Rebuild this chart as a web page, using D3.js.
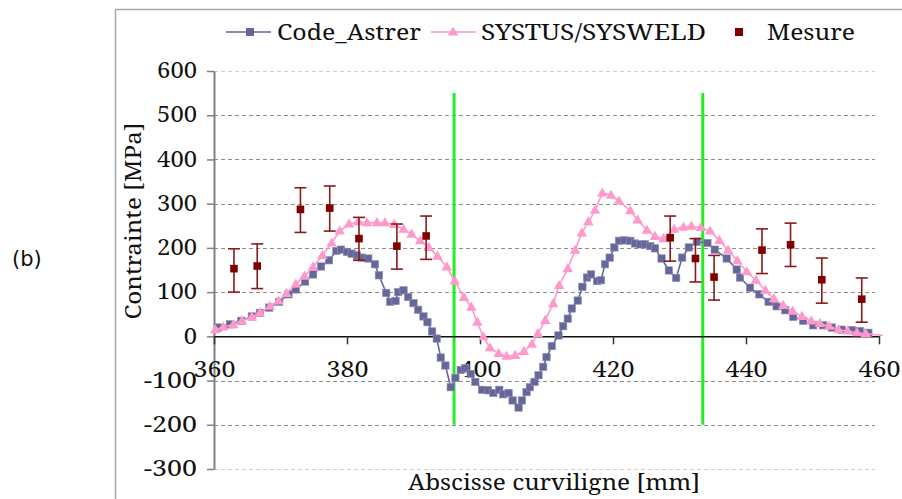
<!DOCTYPE html>
<html>
<head>
<meta charset="utf-8">
<script src="https://cdn.jsdelivr.net/npm/d3@7"></script>
<style>
    body { margin: 0; background: #fff; }
    svg { display: block; }
</style>
</head>
<body>
<div id="chart"></div>
<script>
// ---- data ----
const astrerX = [360.6, 362.4, 364.1, 365.7, 366.9, 368.3, 369.8, 371.2, 372.3, 373.7, 374.9, 376.1, 377.3, 378.4, 379.1, 380.0, 380.7, 381.5, 382.2, 383.2,
    384.2, 384.8, 385.9, 386.5, 387.3, 387.7, 388.5, 389.2, 390.0, 390.7, 391.5, 392.1, 392.8, 393.5, 394.1, 394.8, 395.6, 396.3, 397.1, 397.8,
    398.6, 399.3, 400.3, 401.2, 402.0, 402.9, 403.5, 404.3, 404.9, 405.8, 406.3, 407.0, 407.5, 408.2, 408.8, 409.5, 410.0, 410.8, 411.8, 412.5,
    413.2, 413.8, 414.7, 415.4, 416.1, 416.7, 417.6, 418.2, 418.8, 419.5, 420.2, 420.9, 421.7, 422.6, 423.3, 424.1, 424.8, 425.6, 426.3, 427.3,
    428.4, 429.5, 430.4, 431.4, 432.6, 434.2, 435.3, 437.1, 438.6, 439.1, 440.6, 442.0, 443.4, 444.6, 445.9, 447.1, 448.6, 450.1, 451.6, 452.9,
    454.4, 455.9, 457.1, 458.4];
const astrerY = [20, 27, 35, 45, 53, 65, 78, 95, 106, 124, 140, 158, 172, 193, 196, 191, 187, 183, 178, 176,
    163, 138, 98, 78, 80, 100, 104, 89, 75, 60, 45, 32, 11, -5, -48, -66, -115, -94, -76, -72,
    -85, -103, -121, -122, -128, -121, -131, -128, -145, -161, -145, -126, -115, -103, -88, -69, -47, -22, 2, 23,
    40, 63, 81, 112, 133, 140, 125, 127, 163, 178, 201, 216, 217, 216, 210, 208, 208, 204, 199, 176,
    149, 132, 178, 201, 214, 211, 196, 176, 151, 133, 110, 95, 78, 68, 59, 44, 35, 25, 25, 20,
    15, 14, 12, 8];

const systusX = [360.2, 361.4, 362.9, 364.2, 365.7, 366.9, 368.4, 369.7, 370.9, 372.3, 373.6, 374.9, 376.3, 377.7, 378.9, 380.3, 381.7, 383.0, 384.5, 385.7,
    387.1, 388.5, 389.7, 391.0, 392.3, 393.6, 395.0, 396.2, 397.6, 398.7, 399.6, 400.5, 401.5, 402.8, 404.0, 405.3, 406.6, 407.8, 408.7, 409.8,
    411.0, 411.9, 413.2, 414.3, 415.3, 416.3, 417.3, 418.4, 419.7, 420.9, 422.6, 423.7, 425.1, 426.3, 427.6, 429.2, 430.6, 431.8, 433.2, 434.6,
    436.0, 437.3, 438.7, 440.1, 441.5, 442.9, 444.2, 445.6, 447.0, 448.4, 449.8, 451.1, 452.5, 453.9, 455.3, 456.7, 458.0, 460.6];
const systusY = [15, 21, 26, 35, 44, 53, 68, 80, 97, 118, 136, 157, 183, 211, 238, 254, 259, 257, 257, 257,
    253, 242, 231, 216, 201, 181, 157, 125, 88, 66, 32, -1, -26, -39, -45, -43, -34, -18, 6, 36,
    74, 115, 153, 195, 234, 259, 285, 324, 319, 306, 284, 263, 240, 226, 221, 242, 247, 249, 246, 238,
    217, 195, 171, 146, 127, 104, 85, 70, 57, 45, 35, 29, 23, 15, 12, 8, 6, 2];

const mesureX = [363.0, 366.5, 373.0, 377.4, 381.8, 387.5, 391.9, 428.6, 432.4, 435.2, 442.4, 446.7, 451.4, 457.4];
const mesureY = [153, 159, 287, 290, 221, 204, 227, 223, 176, 134, 195, 207, 128, 84];
const mesureLow = [100, 108, 235, 238, 172, 152, 174, 170, 123, 82, 142, 158, 75, 32];
const mesureHigh = [198, 209, 336, 340, 269, 254, 272, 272, 221, 183, 243, 256, 177, 132];

const weldLines = [396.1, 433.5];   // green markers, drawn from -200 to 550
const xTicks = [360, 380, 400, 420, 440, 460];
const yTicks = [-300, -200, -100, 0, 100, 200, 300, 400, 500, 600];

const legendLabels = ["Code_Astrer", "SYSTUS/SYSWELD", "Mesure"];

// ---- layout ----
const width = 902, height = 499;
const astrerColor = "#666699", systusColor = "#ff99cc", mesureColor = "#800000";
//a lone family name (no generic fallback) lands on the browser's default serif face,
//which is the nearest thing to the Vera-style serif of the original here
const serif = '"Noto Serif"';

const svg = d3.select("#chart").append("svg")
    .attr("width", width)
    .attr("height", height);

let x = d3.scaleLinear().domain([360, 460]).range([214, 879]);
let y = d3.scaleLinear().domain([-300, 600]).range([469, 71]);

//plain hyphen for negative numbers, like the original
let fmt = d => String(d);

//outer frame (only the top and left edges are visible)
svg.append("path")
    .attr("d", `M115.5,${height}V9.5H${width}`)
    .attr("fill", "none")
    .attr("stroke", "#a6a6a6")
    .attr("stroke-width", 1.5);

//dashed grid lines
svg.append("g")
    .selectAll("line")
    .data(yTicks.filter(d => d !== 0))
    .join("line")
    .attr("x1", x(360))
    .attr("x2", 875)
    .attr("y1", d => Math.round(y(d)) + 0.5)
    .attr("y2", d => Math.round(y(d)) + 0.5)
    .attr("stroke", d => (d === 600 || d === -300) ? "#cfcfcf" : "#8c8c8c")
    .attr("stroke-dasharray", "4,3");

//y axis
let yAxis = d3.axisLeft(y).tickValues(yTicks).tickSize(7).tickPadding(10).tickSizeOuter(0).tickFormat(fmt);
let gy = svg.append("g")
    .attr("transform", `translate(${x(360)},0)`)
    .call(yAxis);
gy.attr("font-family", null);
gy.select(".domain").attr("stroke", "#808080").attr("stroke-width", 2);
gy.selectAll(".tick line").attr("stroke", "#808080").attr("stroke-width", 1.5);
gy.selectAll(".tick text")
    .style("font-family", serif)
    .attr("font-size", 21)
    .attr("fill", "#111")
    .attr("textLength", d => String(d).length * 13.3)
    .attr("lengthAdjust", "spacingAndGlyphs");

//green weld markers
svg.append("g")
    .selectAll("line")
    .data(weldLines)
    .join("line")
    .attr("x1", d => x(d))
    .attr("x2", d => x(d))
    .attr("y1", y(550))
    .attr("y2", y(-200))
    .attr("stroke", "#22ee22")
    .attr("stroke-width", 3);

//x axis sits on the zero line, ticks go downward
let xAxis = d3.axisBottom(x).tickValues(xTicks).tickSize(8).tickSizeOuter(0).tickFormat(fmt);
let gx = svg.append("g")
    .attr("transform", `translate(0,${y(0)})`)
    .call(xAxis);
gx.attr("font-family", null);
gx.select(".domain").attr("stroke", "#111").attr("stroke-width", 1.5);
gx.selectAll(".tick line").attr("stroke", "#333").attr("stroke-width", 1.5);
gx.selectAll(".tick text")
    .style("font-family", serif)
    .attr("font-size", 21)
    .attr("fill", "#111")
    .attr("dy", "1.4em")
    .attr("textLength", 42)
    .attr("lengthAdjust", "spacingAndGlyphs");

// ---- series ----
let astrer = astrerX.map((d, i) => ({ x: d, y: astrerY[i] }));
let systus = systusX.map((d, i) => ({ x: d, y: systusY[i] }));
let mesure = mesureX.map((d, i) => ({ x: d, y: mesureY[i], lo: mesureLow[i], hi: mesureHigh[i] }));

let line = d3.line().x(d => x(d.x)).y(d => y(d.y));
let tri = d3.symbol().type(d3.symbolTriangle).size(48);

svg.append("path")
    .datum(astrer)
    .attr("d", line)
    .attr("fill", "none")
    .attr("stroke", astrerColor)
    .attr("stroke-width", 1.6);

svg.append("g")
    .selectAll("rect")
    .data(astrer)
    .join("rect")
    .attr("x", d => x(d.x) - 3.7)
    .attr("y", d => y(d.y) - 3.7)
    .attr("width", 7.4)
    .attr("height", 7.4)
    .attr("fill", astrerColor)
    .attr("stroke", "#8f8fb8")
    .attr("stroke-width", 0.6);

svg.append("path")
    .datum(systus)
    .attr("d", line)
    .attr("fill", "none")
    .attr("stroke", systusColor)
    .attr("stroke-width", 1.6);

svg.append("g")
    .selectAll("path")
    .data(systus.filter(d => d.x < 459))
    .join("path")
    .attr("transform", d => `translate(${x(d.x)},${y(d.y) + 0.5})`)
    .attr("d", tri)
    .attr("fill", systusColor);

//measurements with error bars
let mg = svg.append("g")
    .selectAll("g")
    .data(mesure)
    .join("g");

mg.append("line")
    .attr("x1", d => x(d.x))
    .attr("x2", d => x(d.x))
    .attr("y1", d => y(d.hi))
    .attr("y2", d => y(d.lo))
    .attr("stroke", "#8b1a1a")
    .attr("stroke-width", 1.6);

mg.selectAll(".cap")
    .data(d => [{ x: d.x, v: d.hi }, { x: d.x, v: d.lo }])
    .join("line")
    .attr("class", "cap")
    .attr("x1", d => x(d.x) - 6)
    .attr("x2", d => x(d.x) + 6)
    .attr("y1", d => y(d.v))
    .attr("y2", d => y(d.v))
    .attr("stroke", "#8b1a1a")
    .attr("stroke-width", 1.6);

mg.append("rect")
    .attr("x", d => x(d.x) - 3.8)
    .attr("y", d => y(d.y) - 3.8)
    .attr("width", 7.6)
    .attr("height", 7.6)
    .attr("fill", mesureColor);

// ---- legend ----
let legend = svg.append("g").attr("font-size", 22).attr("fill", "#111");

legend.append("line").attr("x1", 226).attr("x2", 271).attr("y1", 32).attr("y2", 32)
    .attr("stroke", astrerColor).attr("stroke-width", 1.6);
legend.append("rect").attr("x", 246).attr("y", 28).attr("width", 8).attr("height", 8).attr("fill", astrerColor);

legend.append("line").attr("x1", 431).attr("x2", 476).attr("y1", 32).attr("y2", 32)
    .attr("stroke", systusColor).attr("stroke-width", 1.6);
legend.append("path").attr("transform", "translate(453,32.5)").attr("d", tri).attr("fill", systusColor);

legend.append("rect").attr("x", 735).attr("y", 28).attr("width", 8).attr("height", 8).attr("fill", mesureColor);

let legendPos = [[277, 144], [481, 225], [767, 88]];
legend.selectAll("text")
    .data(legendLabels)
    .join("text")
    .style("font-family", serif)
    .attr("x", (d, i) => legendPos[i][0])
    .attr("y", 40)
    .attr("textLength", (d, i) => legendPos[i][1])
    .attr("lengthAdjust", "spacingAndGlyphs")
    .text(d => d);

// ---- titles ----
svg.append("text")
    .style("font-family", serif)
    .attr("x", 554)
    .attr("y", 490)
    .attr("text-anchor", "middle")
    .attr("font-size", 22)
    .attr("textLength", 292)
    .attr("lengthAdjust", "spacingAndGlyphs")
    .attr("fill", "#111")
    .text("Abscisse curviligne [mm]");

svg.append("text")
    .style("font-family", serif)
    .attr("transform", "translate(141,221) rotate(-90)")
    .attr("text-anchor", "middle")
    .attr("font-size", 22)
    .attr("textLength", 197)
    .attr("lengthAdjust", "spacingAndGlyphs")
    .attr("fill", "#111")
    .text("Contrainte [MPa]");

svg.append("text")
    .attr("x", 12)
    .attr("y", 266)
    .style("font-family", "'DejaVu Sans', sans-serif")
    .attr("font-size", 21)
    .attr("fill", "#111")
    .text("(b)");
</script>
</body>
</html>
